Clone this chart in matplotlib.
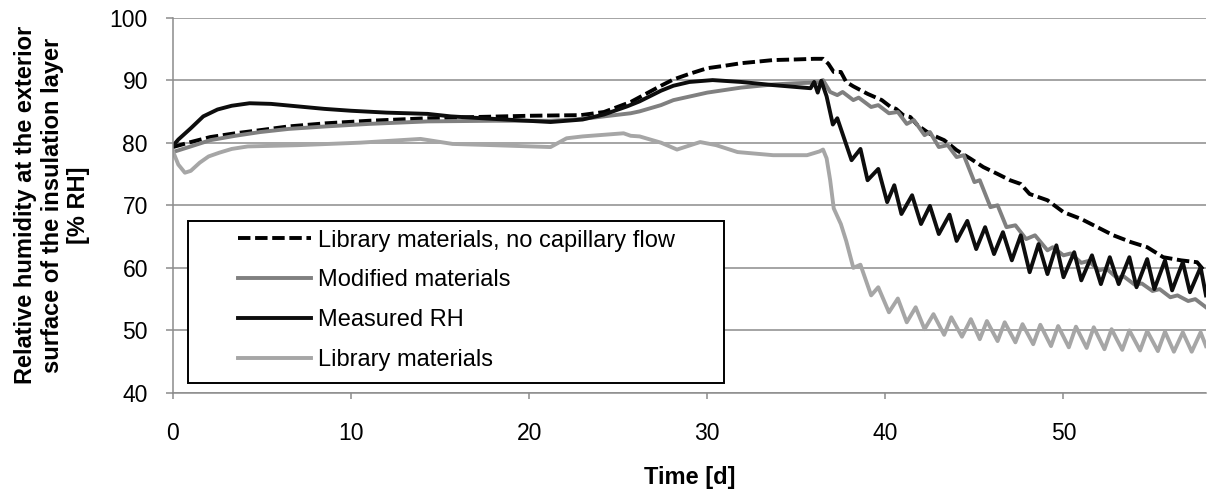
import matplotlib
matplotlib.use("Agg")
import matplotlib.pyplot as plt
from matplotlib.patches import Rectangle

plt.rcParams['font.family'] = ['Liberation Sans', 'DejaVu Sans']

# Library materials, no capillary flow (dashed)
days_nocap = [0, 1, 2.1, 3.5, 4.9, 6.5, 8.6, 11, 14.3, 17, 20, 22.9, 24.2, 25.7,
              27.4, 28.1, 29, 30, 31, 31.9, 33, 33.7, 35, 36, 36.5, 36.8, 37.1,
              37.5, 37.8, 38.2, 38.6, 39.0, 39.4, 39.8, 40.3, 40.6, 41.0, 41.4,
              41.8, 42.5, 43.3, 44.0, 44.8, 45.5, 46.3, 47.0, 47.6, 48.1, 49.1,
              50.0, 51.0, 51.9, 52.8, 53.8, 54.7, 55.6, 56.6, 57.5, 58]
rh_nocap = [79.3, 80.1, 80.9, 81.5, 82.0, 82.6, 83.1, 83.5, 83.9, 84.1, 84.3, 84.4, 84.9, 86.5,
            89.1, 90.1, 91.0, 91.9, 92.3, 92.7, 93.0, 93.2, 93.3, 93.4, 93.4, 92.6, 91.3,
            91.3, 89.7, 89.0, 88.4, 87.8, 87.3, 86.8, 85.7, 85.4, 84.4, 84.1,
            82.8, 81.4, 80.4, 78.8, 77.4, 76.1, 75.0, 74.0, 73.4, 71.8, 70.8,
            68.9, 67.8, 66.5, 65.2, 64.1, 63.3, 61.7, 61.2, 60.9, 59.2]

# Modified materials
days_mod = [0, 1, 2.1, 3.5, 4.9, 6.5, 8.6, 11, 14.3, 18, 21.2, 22.5, 23.6, 25.7,
            26.2, 27.4, 28.1, 30, 31.9, 33.7, 35, 36, 36.3, 36.5, 36.9, 37.3,
            37.6, 38.2, 38.5, 39.2, 39.6, 40.2, 40.7, 41.2, 41.6, 42.2, 42.5,
            43.0, 43.5, 44.0, 44.4, 45.0, 45.3, 45.9, 46.3, 46.8, 47.3, 47.9,
            48.4, 49.1, 49.4, 50.0, 50.4, 51.0, 51.4, 52.0, 52.4, 53.0, 53.4,
            54.0, 54.4, 55.0, 55.4, 56.0, 56.4, 57.0, 57.4, 58.0]
rh_mod = [78.5, 79.4, 80.4, 81.1, 81.7, 82.2, 82.6, 83.0, 83.4, 83.5, 83.5, 83.7, 84.0, 84.7,
          85.0, 86.0, 86.8, 88.0, 88.8, 89.3, 89.5, 89.6, 89.6, 90.0, 88.1, 87.6,
          88.1, 86.8, 87.2, 85.7, 86.0, 84.7, 84.9, 83.0, 83.6, 81.2, 81.7,
          79.3, 79.6, 77.7, 78.0, 73.7, 74.0, 69.7, 70.0, 66.5, 66.8, 64.6,
          65.2, 62.8, 63.3, 62.0, 62.3, 60.8, 61.1, 59.6, 59.9, 58.4, 58.6,
          57.3, 57.5, 56.3, 56.6, 55.3, 55.6, 54.7, 55.0, 53.7]

# Measured RH
days_meas = [0, 0.3, 1, 1.7, 2.5, 3.3, 4.3, 5.5, 7, 8.5, 10, 12, 14.3, 15.6, 18,
             21.2, 23, 24.2, 25.5, 26.2, 27.4, 28.1, 29, 30.3, 31.9, 33.7, 35.8,
             36.0, 36.2, 36.4, 36.7, 37.05, 37.3, 38.1, 38.6, 39.0, 39.6, 40.1,
             40.5, 40.9, 41.5, 42.0, 42.5, 43.0, 43.6, 44.0, 44.6, 45.1, 45.6,
             46.1, 46.6, 47.1, 47.6, 48.1, 48.6, 49.1, 49.6, 50.0, 50.6, 51.0,
             51.6, 52.1, 52.6, 53.1, 53.7, 54.1, 54.7, 55.1, 55.7, 56.1, 56.7,
             57.1, 57.7, 58.0]
rh_meas = [79.5, 80.5, 82.3, 84.2, 85.3, 85.9, 86.3, 86.2, 85.8, 85.4, 85.1, 84.8, 84.6, 84.2, 83.8,
           83.3, 83.7, 84.5, 85.8, 86.6, 88.3, 89.1, 89.7, 90.0, 89.7, 89.2, 88.7,
           89.7, 88.0, 89.9, 87.4, 82.9, 83.9, 77.2, 79.0, 74.0, 75.8, 70.5,
           73.2, 68.6, 71.6, 67.0, 69.9, 65.4, 68.5, 64.3, 67.5, 63.0, 66.5,
           62.2, 65.7, 61.2, 65.2, 59.3, 63.8, 59.0, 63.6, 58.5, 62.5, 58.0,
           62.0, 57.4, 61.7, 57.4, 61.7, 56.9, 61.4, 56.6, 61.2, 56.4, 60.9,
           56.1, 60.1, 55.6]

# Library materials
days_lib = [0, 0.3, 0.67, 1.0, 1.5, 2.0, 2.6, 3.3, 4.2, 7, 10.5, 13.9, 15.7, 18,
            21.2, 22.1, 23, 25.3, 25.7, 26.2, 27.4, 28.3, 29.6, 30.5, 31.7, 33.7,
            35.6, 36.3, 36.5, 36.7, 36.9, 37.1, 37.5, 37.8, 38.2, 38.6, 39.2,
            39.6, 40.2, 40.7, 41.2, 41.7, 42.2, 42.7, 43.3, 43.7, 44.3, 44.8,
            45.3, 45.7, 46.3, 46.7, 47.3, 47.7, 48.3, 48.7, 49.3, 49.7, 50.3,
            50.7, 51.3, 51.7, 52.3, 52.7, 53.3, 53.7, 54.3, 54.7, 55.3, 55.7,
            56.2, 56.7, 57.2, 57.7, 58.0]
rh_lib = [78.6, 76.5, 75.2, 75.5, 76.8, 77.8, 78.4, 79.0, 79.4, 79.6, 80.0, 80.6, 79.8, 79.6,
          79.3, 80.7, 81.0, 81.5, 81.1, 81.0, 80.0, 78.9, 80.1, 79.6, 78.5, 78.0,
          78.0, 78.6, 78.9, 77.5, 74.0, 69.5, 67.0, 64.3, 60.0, 60.5, 55.6,
          56.9, 52.9, 55.1, 51.3, 53.7, 50.2, 52.6, 49.3, 52.1, 49.0, 51.8,
          48.6, 51.5, 48.3, 51.3, 48.1, 51.0, 47.8, 50.9, 47.5, 50.7, 47.3,
          50.6, 47.2, 50.5, 47.0, 50.2, 46.9, 50.0, 46.8, 49.9, 46.7, 49.8,
          46.6, 49.7, 46.6, 49.7, 47.5]

x_ticks = [0, 10, 20, 30, 40, 50]
y_ticks = [40, 50, 60, 70, 80, 90, 100]

grid_col = '#8c8c8c'

fig = plt.figure(figsize=(12.13, 4.93), dpi=100)
ax = fig.add_axes([0.1426, 0.2028, 0.8516, 0.7617])

lw = 2.8
ax.plot(days_nocap, rh_nocap, color='black', lw=lw, linestyle=(0, (3.2, 1.2)),
        label='Library materials, no capillary flow')
ax.plot(days_mod, rh_mod, color='#808080', lw=lw, solid_joinstyle='round',
        label='Modified materials')
ax.plot(days_meas, rh_meas, color='#0d0d0d', lw=lw, solid_joinstyle='round',
        label='Measured RH')
ax.plot(days_lib, rh_lib, color='#a6a6a6', lw=lw, solid_joinstyle='round',
        label='Library materials')

ax.set_xlim(0, 58)
ax.set_ylim(40, 100)
ax.set_xticks(x_ticks)
ax.set_yticks(y_ticks)
ax.yaxis.grid(True, color=grid_col, lw=1.1)
ax.set_axisbelow(True)
for s in ['top', 'right']:
    ax.spines[s].set_visible(False)
for s in ['left', 'bottom']:
    ax.spines[s].set_color(grid_col)
    ax.spines[s].set_linewidth(1.1)
ax.tick_params(axis='y', length=5, width=1.1, color=grid_col, pad=13, labelsize=16.5)
ax.tick_params(axis='x', length=4, width=1.1, color=grid_col, pad=17, labelsize=16.5)

ax.set_ylabel('Relative humidity at the exterior\nsurface of the insulation layer\n[% RH]',
              fontsize=17, fontweight='bold')
ax.yaxis.set_label_coords(-0.08, 0.5)
ax.set_xlabel('Time [d]', fontsize=17, fontweight='bold')
ax.xaxis.set_label_coords(0.5, -0.195)
ax.xaxis.label.set_va('top')

# legend frame
ax.add_patch(Rectangle((0.0145, 0.027), 0.519, 0.431, transform=ax.transAxes,
                       facecolor='white', edgecolor='black', lw=1.4, zorder=4.5))
ax.legend(loc='upper left', bbox_to_anchor=(0.063, 0.435), frameon=False,
          fontsize=17, handlelength=3.1, handletextpad=0.3, labelspacing=0.75,
          borderpad=0, borderaxespad=0)

fig.savefig('out.png', dpi=100)
